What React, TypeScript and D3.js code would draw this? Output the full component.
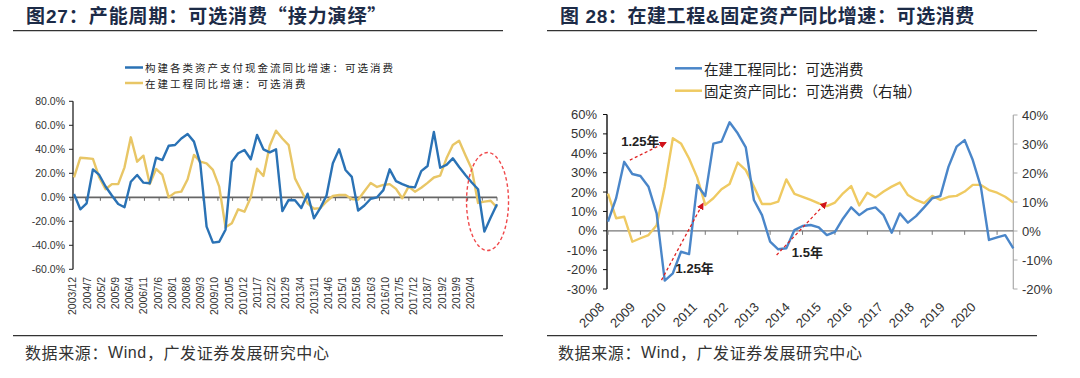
import React from 'react';
import * as d3 from 'd3';

// ---------- Left chart data (图27) ----------
const leftLabels = ['2003/12','2004/7','2005/2','2005/9','2006/4','2006/11','2007/6','2008/1','2008/8','2009/3','2009/10','2010/5','2010/12','2011/7','2012/2','2012/9','2013/4','2013/11','2014/6','2015/1','2015/8','2016/3','2016/10','2017/5','2017/12','2018/7','2019/2','2019/9','2020/4'];
const leftYTicks = [80, 60, 40, 20, 0, -20, -40, -60];
const leftCashFlow = [2.8,-10,-5,23.3,18.6,9,1.5,-5.6,-8.3,13,18.6,12.2,11.7,33,31,43,43.6,49,52.8,46.4,28.3,-24.4,-37.8,-37,-27,29.7,36.7,39.4,31.7,52,40,37.5,40,-11.5,-2.2,-2.5,-9,3,-17.5,-9,1.5,28.3,40,22.8,17,-11,-6.8,-1.2,0,6,23.3,13.5,11,8.9,8.3,21.8,26.1,54.5,24.6,27,32.5,25.3,18.6,12.3,6.7,-28.6,-16.8,-5.7];
const leftConstruction = [16.7,33,32.5,32,16.5,6.7,11,11,25,50,29.7,34.7,11,23.6,18.6,0,3.9,4.7,15,35.3,29.7,28.3,22.8,8.9,-25,-21.7,-10,-12,0,23.8,17.8,43,55.5,49,43.5,15.8,5.5,-5,-9.5,-9,-3.5,1.1,1.9,1.9,-1.5,-2,5,12,8.6,10.3,11,7,-0.8,8.9,4.7,8,12,16.5,18,32.5,43.6,47.2,35,23.5,-4.7,-3.6,-2.9,-8.5];

// ---------- Right chart data (图28) ----------
const rightYears = ['2008','2009','2010','2011','2012','2013','2014','2015','2016','2017','2018','2019','2020'];
const rightLeftTicks = [60, 50, 40, 30, 20, 10, 0, -10, -20, -30];
const rightRightTicks = [40, 30, 20, 10, 0, -10, -20];
const rightConstruction = [4.7,16.8,35.6,29.3,28.3,22.7,9,-25.7,-21.9,-10.8,-12,23.6,18,45,46,56,50.3,43,15.9,8.1,-5.6,-9.5,-9,0.4,2.5,3,1.8,-2.2,-0.5,6.4,12.1,8.1,11.1,12.1,8.1,-1,9,4.2,7.6,12.1,16.8,17.9,33,43.4,46.8,36.5,22.7,-4.7,-3.4,-2.2,-9];
const rightFixedAsset = [12.9,4.4,4.9,-3.7,-2.5,-1.4,2,15.3,32,30.2,25,18.5,9,11.3,14.4,16.2,23.6,21,15.3,9.3,9.3,10.1,17.8,12.8,11.8,10.7,9.5,8.6,9.8,13,15.5,8.8,13.2,11.6,13.6,15.3,16.7,12.4,10.7,9.6,12.1,10.7,11.8,12.1,13.6,15.9,15.9,14.1,13.2,11.8,9.8];
// annotations: [fromIndex, fromValue(left axis), toIndex, toValue(left axis), label, labelIndex, labelValue]
const annotations: [number, number, number, number, string, number, number][] = [
  [2.7, 36.5, 7.1, 45.5, '1.25年', 4.0, 46],
  [6.6, -25.4, 11.7, 14, '1.25年', 10.7, -19.5],
  [20.8, -12.5, 26.9, 14.5, '1.5年', 24.6, -11],
];

const FONT = "'Liberation Sans', Arial, 'Noto Sans CJK SC', sans-serif";
const CJK = "'Noto Sans CJK SC', 'Liberation Sans', sans-serif";

const L_BLUE = '#2a72b5';
const L_YELLOW = '#e8c666';
const R_BLUE = '#4a86c9';
const R_YELLOW = '#efca62';

export default function App() {
  // Left chart scales
  const xL = d3.scaleLinear().domain([0, leftCashFlow.length - 1]).range([74, 497]);
  const xLab = d3.scaleLinear().domain([0, leftLabels.length - 1]).range([72.7, 470.5]);
  const xTickL = d3.scaleLinear().domain([0, 29]).range([71, 497]);
  const yL = d3.scaleLinear().domain([-60, 80]).range([269.3, 101.3]);
  const lineL = d3.line<number>().x((_, i) => xL(i)).y((d) => yL(d));

  // Right chart scales
  const xR = d3.scaleLinear().domain([0, rightConstruction.length - 1]).range([608, 1013.3]);
  const xRLab = d3.scaleLinear().domain([0, rightYears.length - 1]).range([605, 976.7]);
  const yRL = d3.scaleLinear().domain([-30, 60]).range([289, 114.5]);
  const yRR = d3.scaleLinear().domain([-20, 40]).range([289, 115]);
  const lineRB = d3.line<number>().x((_, i) => xR(i)).y((d) => yRL(d));
  const lineRY = d3.line<number>().x((_, i) => xR(i)).y((d) => yRR(d));

  return (
    <svg width={1080} height={378} style={{ position: 'absolute', left: 0, top: 0, background: '#fff' }} fontFamily={FONT}>
      <defs>
        <marker id="arrow" viewBox="0 0 10 10" refX="8" refY="5" markerWidth="5.5" markerHeight="5.5" orient="auto">
          <path d="M0,0 L10,5 L0,10 z" fill="#d0131b" />
        </marker>
      </defs>
      <rect x={0} y={0} width={1080} height={378} fill="#fff" />

      {/* ================= LEFT ================= */}
      <text x={26} y={23} fontSize={19} fontWeight="bold" letterSpacing={0.9} fill="#1c2b47" fontFamily={FONT}>图27：产能周期：可选消费<tspan fontFamily={CJK}>“</tspan>接力演绎<tspan fontFamily={CJK}>”</tspan></text>
      <line x1={13} x2={503} y1={30.7} y2={30.7} stroke="#333" strokeWidth={1.2} />

      {/* legend */}
      <line x1={125} x2={143} y1={67.5} y2={67.5} stroke={L_BLUE} strokeWidth={2.5} />
      <text x={145} y={67.5} fontSize={10.5} letterSpacing={2} dominantBaseline="central" fill="#222" fontFamily={CJK}>构建各类资产支付现金流同比增速：可选消费</text>
      <line x1={125} x2={143} y1={83} y2={83} stroke={L_YELLOW} strokeWidth={2.5} />
      <text x={145} y={83} fontSize={10.5} letterSpacing={2} dominantBaseline="central" fill="#222" fontFamily={CJK}>在建工程同比增速：可选消费</text>

      {/* y axis */}
      <line x1={73} x2={73} y1={yL(80)} y2={yL(-60)} stroke="#222" strokeWidth={1.3} />
      {leftYTicks.map((t) => (
        <g key={'ly' + t}>
          <line x1={69} x2={73} y1={yL(t)} y2={yL(t)} stroke="#222" strokeWidth={1} />
          <text x={65} y={yL(t)} fontSize={10.5} textAnchor="end" dominantBaseline="central" fill="#333">{t.toFixed(1) + '%'}</text>
        </g>
      ))}

      {/* x axis at zero */}
      <line x1={73} x2={497} y1={yL(0)} y2={yL(0)} stroke="#666" strokeWidth={1.8} />
      {d3.range(30).map((i) => (
        <line key={'lt' + i} x1={xTickL(i)} x2={xTickL(i)} y1={yL(0)} y2={yL(0) + 3.5} stroke="#666" strokeWidth={1} />
      ))}
      {leftLabels.map((lab, i) => (
        <text key={'lx' + i} transform={`translate(${xLab(i) + 3.6},277) rotate(-90)`} fontSize={10.5} textAnchor="end" fill="#333">{lab}</text>
      ))}

      {/* lines */}
      <path d={lineL(leftConstruction) || ''} fill="none" stroke={L_YELLOW} strokeWidth={2.4} strokeLinejoin="round" />
      <path d={lineL(leftCashFlow) || ''} fill="none" stroke={L_BLUE} strokeWidth={2.4} strokeLinejoin="round" />

      {/* highlight ellipse */}
      <ellipse cx={xL(65.5)} cy={yL(-3.5)} rx={21} ry={49} fill="none" stroke="#f0484a" strokeWidth={1.4} strokeDasharray="3.5 2.5" />

      <line x1={13} x2={503} y1={335.7} y2={335.7} stroke="#333" strokeWidth={1.2} />
      <text x={25} y={352} fontSize={16} letterSpacing={0.6} dominantBaseline="central" fill="#333" fontFamily={CJK}>数据来源：<tspan fontFamily={FONT}>Wind</tspan>，广发证券发展研究中心</text>

      {/* ================= RIGHT ================= */}
      <text x={560} y={23} fontSize={19} fontWeight="bold" letterSpacing={0.6} fill="#1c2b47" fontFamily={FONT}>图 28：在建工程&amp;固定资产同比增速：可选消费</text>
      <line x1={547} x2={1037} y1={30.7} y2={30.7} stroke="#333" strokeWidth={1.2} />

      <line x1={675} x2={702} y1={68.3} y2={68.3} stroke={R_BLUE} strokeWidth={2.5} />
      <text x={704} y={68.3} fontSize={14.5} dominantBaseline="central" fill="#222" fontFamily={CJK}>在建工程同比：可选消费</text>
      <line x1={675} x2={702} y1={90.7} y2={90.7} stroke={R_YELLOW} strokeWidth={2.5} />
      <text x={704} y={90.7} fontSize={14.5} dominantBaseline="central" fill="#222" fontFamily={CJK}>固定资产同比：可选消费（右轴）</text>

      {/* left y axis */}
      <line x1={607} x2={607} y1={yRL(60)} y2={yRL(-30)} stroke="#111" strokeWidth={1.4} />
      {rightLeftTicks.map((t) => (
        <g key={'rl' + t}>
          <line x1={603} x2={607} y1={yRL(t)} y2={yRL(t)} stroke="#111" strokeWidth={1} />
          <text x={597} y={yRL(t)} fontSize={13} textAnchor="end" dominantBaseline="central" fill="#333">{t + '%'}</text>
        </g>
      ))}
      {/* right y axis */}
      <line x1={1013.3} x2={1013.3} y1={yRR(40)} y2={yRR(-20)} stroke="#aaa" strokeWidth={1.2} />
      {rightRightTicks.map((t) => (
        <g key={'rr' + t}>
          <line x1={1013.3} x2={1017.5} y1={yRR(t)} y2={yRR(t)} stroke="#aaa" strokeWidth={1} />
          <text x={1022} y={yRR(t)} fontSize={13} textAnchor="start" dominantBaseline="central" fill="#333">{t + '%'}</text>
        </g>
      ))}
      {/* zero axis */}
      <line x1={607} x2={1013.3} y1={yRL(0)} y2={yRL(0)} stroke="#777" strokeWidth={1.4} />
      {d3.range(0, 13).map((k) => (
        <line key={'rt' + k} x1={xR(4 * k)} x2={xR(4 * k)} y1={yRL(0)} y2={yRL(0) + 4} stroke="#777" strokeWidth={1} />
      ))}
      {rightYears.map((y, i) => (
        <text key={'rx' + y} transform={`translate(${xRLab(i)},308) rotate(-45)`} fontSize={13} textAnchor="end" fill="#333">{y}</text>
      ))}

      <path d={lineRY(rightFixedAsset) || ''} fill="none" stroke={R_YELLOW} strokeWidth={2.4} strokeLinejoin="round" />
      <path d={lineRB(rightConstruction) || ''} fill="none" stroke={R_BLUE} strokeWidth={2.4} strokeLinejoin="round" />

      {annotations.map(([fi, fv, ti, tv, lab, li, lv], i) => (
        <g key={'an' + i}>
          <line x1={xR(fi)} y1={yRL(fv)} x2={xR(ti)} y2={yRL(tv)} stroke="#e02020" strokeWidth={1.3} strokeDasharray="3 2.5" markerEnd="url(#arrow)" />
          <text x={xR(li)} y={yRL(lv)} fontSize={13} fontWeight="bold" textAnchor="middle" dominantBaseline="central" fill="#222">{lab}</text>
        </g>
      ))}

      <line x1={547} x2={1037} y1={335.7} y2={335.7} stroke="#333" strokeWidth={1.2} />
      <text x={558} y={352} fontSize={16} letterSpacing={0.6} dominantBaseline="central" fill="#333" fontFamily={CJK}>数据来源：<tspan fontFamily={FONT}>Wind</tspan>，广发证券发展研究中心</text>
    </svg>
  );
}
